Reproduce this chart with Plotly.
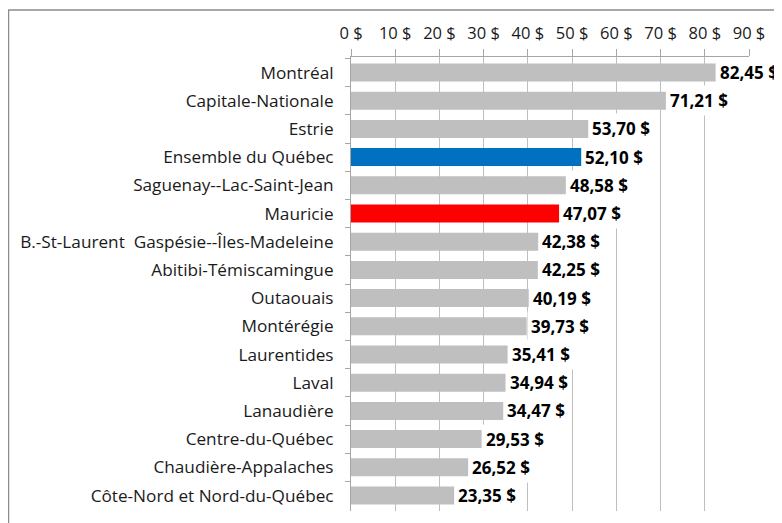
import plotly.graph_objects as go

regions = ["Montréal", "Capitale-Nationale", "Estrie", "Ensemble du Québec",
           "Saguenay--Lac-Saint-Jean", "Mauricie",
           "B.-St-Laurent\u00a0 Gaspésie--Îles-Madeleine", "Abitibi-Témiscamingue",
           "Outaouais", "Montérégie", "Laurentides", "Laval", "Lanaudière",
           "Centre-du-Québec", "Chaudière-Appalaches", "Côte-Nord et Nord-du-Québec"]
values = [82.45, 71.21, 53.70, 52.10, 48.58, 47.07, 42.38, 42.25,
          40.19, 39.73, 35.41, 34.94, 34.47, 29.53, 26.52, 23.35]
tick_vals = [0, 10, 20, 30, 40, 50, 60, 70, 80, 90]
tick_text = [f"{v} $" for v in tick_vals]

colors = []
for r in regions:
    if r == "Ensemble du Québec":
        colors.append("#0070C0")
    elif r == "Mauricie":
        colors.append("#FF0000")
    else:
        colors.append("#BFBFBF")

labels = [f"{v:.2f}".replace(".", ",") + " $" for v in values]

# page body has an 8px default margin: figure is sized/offset to compensate
W, H, OFF = 774, 515, 8
L, T = 351 - OFF, 57 - OFF
R = (W + OFF) - 749
B = (H + OFF) - 511
pw, ph = 749 - 351, 511 - 57

fig = go.Figure(go.Bar(
    x=values, y=regions, orientation="h",
    marker=dict(color=colors, line=dict(width=0)),
    hoverinfo="x+y",
))

# data labels with white boxes (they mask the gridlines like the original)
for v, r, t in zip(values, regions, labels):
    fig.add_annotation(x=v, y=r, xref="x", yref="y", text=f"<b>{t}</b>",
                       showarrow=False, xanchor="left", yanchor="middle",
                       bgcolor="white", borderpad=3, borderwidth=1,
                       bordercolor="rgba(0,0,0,0)",
                       font=dict(family="Open Sans", size=17, color="black"))

fig.update_layout(
    width=W, height=H,
    margin=dict(l=L, r=R, t=T, b=B, autoexpand=False),
    plot_bgcolor="white", paper_bgcolor="white",
    bargap=0.36,
    showlegend=False,
    font=dict(family="Open Sans", size=16.5, color="#1a1a1a"),
    xaxis=dict(side="top", range=[0, 90], tickvals=tick_vals, ticktext=tick_text,
               showgrid=True, gridcolor="#BFBFBF", gridwidth=1,
               showline=True, linecolor="#A6A6A6", linewidth=1,
               ticks="outside", ticklen=7, tickcolor="#A6A6A6",
               ticklabelstandoff=3, zeroline=False, automargin=False,
               tickfont=dict(size=16.5, color="#1a1a1a")),
    yaxis=dict(autorange="reversed", type="category",
               showline=True, linecolor="#A6A6A6", linewidth=1,
               ticks="outside", ticklen=5, tickcolor="#A6A6A6",
               tickson="boundaries", ticklabelstandoff=13, showgrid=False,
               automargin=False, tickfont=dict(size=17.2, color="#1a1a1a")),
    shapes=[dict(type="rect", xref="paper", yref="paper",
                 x0=(0.5 - L) / pw, x1=1.2, y0=-0.2, y1=(ph + T - 2) / ph,
                 line=dict(color="#8C8C8C", width=1.5), layer="below")],
)

fig.write_html("out.html")
